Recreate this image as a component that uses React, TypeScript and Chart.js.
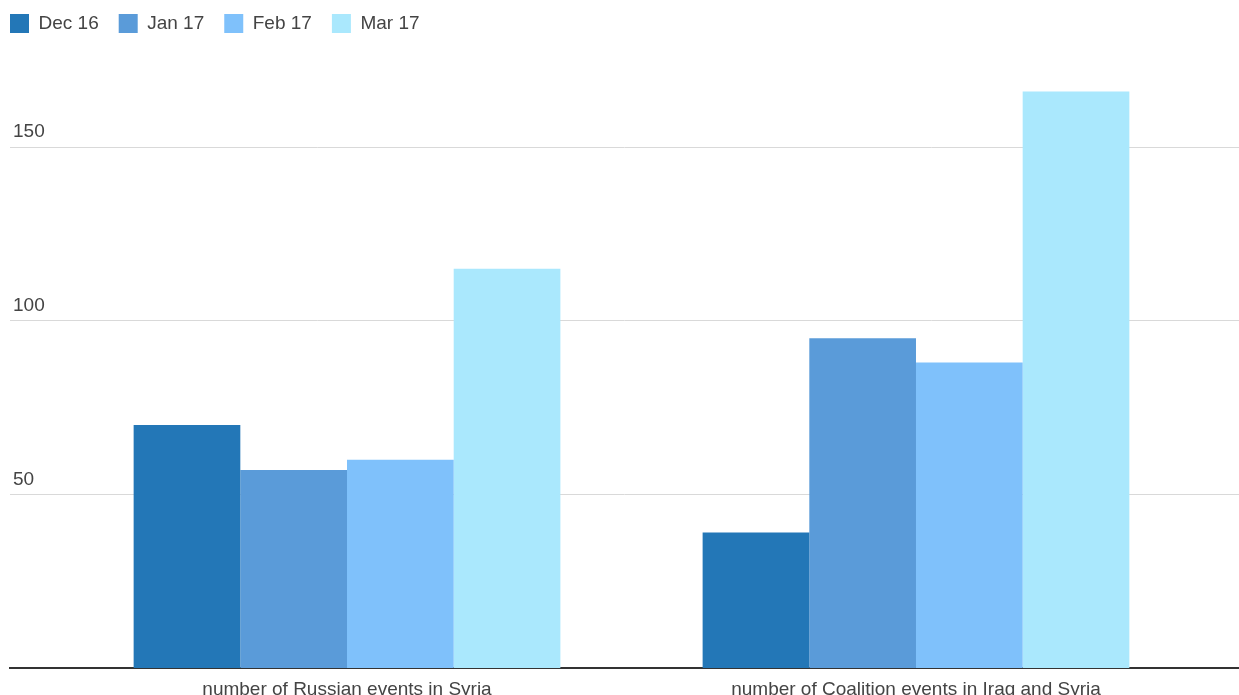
import React, { useEffect, useRef } from "react";
import { Chart, registerables } from "chart.js";

Chart.register(...registerables);

const categories = ["number of Russian events in Syria", "number of Coalition events in Iraq and Syria"];
const seriesNames = ["Dec 16", "Jan 17", "Feb 17", "Mar 17"];
const dec16 = [70, 39];
const jan17 = [57, 95];
const feb17 = [60, 88];
const mar17 = [115, 166];
const yTicks = [50, 100, 150];
const colors = ["#2377b7", "#5a9bd9", "#7fc1fb", "#aae8fd"];

export default function App() {
  const ref = useRef<HTMLCanvasElement | null>(null);
  useEffect(() => {
    document.body.style.margin = "0";
    const canvas = ref.current;
    if (!canvas) return;
    const series = [dec16, jan17, feb17, mar17];
    const font = { family: "'Liberation Sans', Arial, sans-serif", size: 19 };
    const chart = new Chart(canvas, {
      type: "bar",
      data: {
        datasets: series.map((vals, si) => ({
          label: seriesNames[si],
          data: vals.map((v, i) => ({ x: i, y: v })),
          backgroundColor: colors[si],
          borderWidth: 0,
          categoryPercentage: 0.75,
          barPercentage: 1,
        })),
      },
      options: {
        animation: false,
        responsive: false,
        layout: { padding: { top: -6, left: -10, right: 0, bottom: 0 } },
        plugins: {
          legend: {
            position: "top",
            align: "start",
            labels: {
              boxWidth: 19,
              boxHeight: 19,
              padding: 20,
              color: "#444",
              font,
            },
          },
          tooltip: { enabled: false },
        },
        scales: {
          x: {
            type: "linear",
            offset: false,
            min: -0.5923,
            max: 1.5677,
            grid: { display: false },
            border: { display: true, color: "#333", width: 2 },
            afterBuildTicks: (scale: any) => {
              scale.ticks = categories.map((_, i) => ({ value: i }));
            },
            afterFit: (scale: any) => {
              scale.height = 27;
            },
            ticks: {
              color: "#444",
              font,
              padding: 2,
              maxRotation: 0,
              autoSkip: false,
              callback: (v: any) => categories[Math.round(Number(v))] ?? "",
            },
          },
          y: {
            min: 0,
            max: 180,
            position: "left",
            border: { display: false },
            grid: { color: "#d9d9d9", drawTicks: false, lineWidth: 1 },
            afterBuildTicks: (scale: any) => {
              scale.ticks = yTicks.map((v) => ({ value: v }));
            },
            afterFit: (scale: any) => {
              scale.width = 20;
            },
            ticks: {
              mirror: true,
              padding: 3,
              labelOffset: -15,
              color: "#444",
              font,
              callback: (v: any) => String(v),
            },
          },
        },
      },
    });
    return () => chart.destroy();
  }, []);
  return (
    <div style={{ position: "absolute", left: 0, top: 0, width: 1239, height: 695 }}>
      <canvas ref={ref} width={1239} height={695} style={{ display: "block" }} />
    </div>
  );
}
